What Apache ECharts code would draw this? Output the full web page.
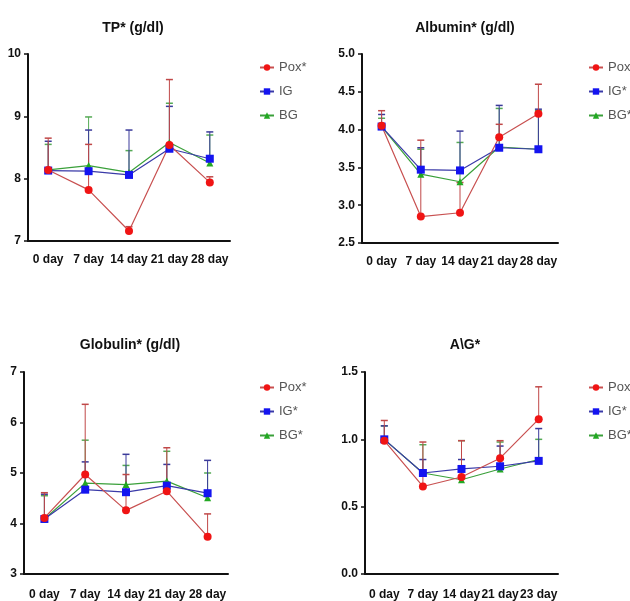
<!DOCTYPE html>
<html>
<head>
<meta charset="utf-8">
<script src="https://cdn.jsdelivr.net/npm/echarts@6/dist/echarts.min.js"></script>
<style>
html, body { margin: 0; padding: 0; background: #fff; }
#main { width: 630px; height: 601px; }
</style>
</head>
<body>
<div id="main"></div>
<script>
// categories
var days = ['0 day', '7 day', '14 day', '21 day', '28 day'];
var daysAG = ['0 day', '7 day', '14 day', '21 day', '23 day'];

// TP (g/dl): mean and top of error bar
var tpPox = [8.14, 7.82, 7.16, 8.54, 7.94];
var tpPoxTop = [8.65, 8.55, 7.23, 9.59, 8.03];
var tpIG = [8.13, 8.12, 8.06, 8.48, 8.32];
var tpIGTop = [8.60, 8.78, 8.78, 9.16, 8.75];
var tpBG = [8.14, 8.21, 8.10, 8.58, 8.25];
var tpBGTop = [8.55, 8.99, 8.45, 9.21, 8.70];

// Albumin (g/dl)
var albPox = [4.05, 2.85, 2.90, 3.90, 4.21];
var albPoxTop = [4.25, 3.86, 3.30, 4.07, 4.60];
var albIG = [4.04, 3.47, 3.46, 3.76, 3.74];
var albIGTop = [4.20, 3.76, 3.98, 4.32, 4.27];
var albBG = [4.04, 3.41, 3.31, 3.77, 3.74];
var albBGTop = [4.15, 3.74, 3.83, 4.28, 4.25];

// Globulin (g/dl)
var gloPox = [4.11, 4.97, 4.26, 4.64, 3.74];
var gloPoxTop = [4.61, 6.36, 4.97, 5.50, 4.19];
var gloIG = [4.09, 4.67, 4.62, 4.75, 4.60];
var gloIGTop = [4.58, 5.22, 5.37, 5.17, 5.25];
var gloBG = [4.09, 4.80, 4.77, 4.84, 4.51];
var gloBGTop = [4.55, 5.65, 5.15, 5.43, 5.00];

// A\G
var agPox = [0.99, 0.65, 0.72, 0.86, 1.15];
var agPoxTop = [1.14, 0.98, 0.99, 0.99, 1.39];
var agIG = [1.00, 0.75, 0.78, 0.80, 0.84];
var agIGTop = [1.10, 0.85, 0.85, 0.95, 1.08];
var agBG = [1.00, 0.75, 0.70, 0.78, 0.85];
var agBGTop = [1.10, 0.96, 0.99, 0.98, 1.00];

var titles = ['TP* (g/dl)', 'Albumin* (g/dl)', 'Globulin* (g/dl)', 'A\\G*'];
var legendNames = [
    ['Pox*', 'IG', 'BG'],
    ['Pox*', 'IG*', 'BG*'],
    ['Pox*', 'IG*', 'BG*'],
    ['Pox*', 'IG*', 'BG*']
];
var yMin = [7, 2.5, 3, 0];
var yMax = [10, 5, 7, 1.5];
var yStep = [1, 0.5, 1, 0.5];
var yDigits = [0, 1, 0, 1];

var FONT = '"Liberation Sans", Arial, sans-serif';

var panels = [
    { cats: days, pox: [tpPox, tpPoxTop], ig: [tpIG, tpIGTop], bg: [tpBG, tpBGTop] },
    { cats: days, pox: [albPox, albPoxTop], ig: [albIG, albIGTop], bg: [albBG, albBGTop] },
    { cats: days, pox: [gloPox, gloPoxTop], ig: [gloIG, gloIGTop], bg: [gloBG, gloBGTop] },
    { cats: daysAG, pox: [agPox, agPoxTop], ig: [agIG, agIGTop], bg: [agBG, agBGTop] }
];

// where each panel sits
var grids = [
    { left: 28, top: 54, width: 202, height: 187 },
    { left: 362, top: 54, width: 196, height: 189 },
    { left: 24, top: 372, width: 204, height: 202 },
    { left: 365, top: 372, width: 193, height: 203 }
];
var titlePos = [[128, 16], [460, 16], [125, 333], [460, 333]];
var legendPos = [[254, 56], [583, 56], [254, 376], [583, 376]];
var labelMargin = [13, 13, 15, 15];

var groups = [
    { key: 'bg', idx: 2, marker: '#22a822', line: '#3aa03a', err: '#55aa55', symbol: 'triangle', size: 7 },
    { key: 'ig', idx: 1, marker: '#1414f0', line: '#3a3aa8', err: '#3a3a9a', symbol: 'rect', size: 8 },
    { key: 'pox', idx: 0, marker: '#f01414', line: '#c85050', err: '#c04848', symbol: 'circle', size: 8 }
];

function errRender(color) {
    return function (params, api) {
        var mid = api.coord([api.value(0), api.value(1)]);
        var top = api.coord([api.value(0), api.value(2)]);
        return {
            type: 'group',
            children: [
                { type: 'line', shape: { x1: mid[0], y1: mid[1], x2: top[0], y2: top[1] }, style: { stroke: color, lineWidth: 1 } },
                { type: 'line', shape: { x1: top[0] - 3.5, y1: top[1], x2: top[0] + 3.5, y2: top[1] }, style: { stroke: color, lineWidth: 1.5 } }
            ]
        };
    };
}

var option = {
    animation: false,
    backgroundColor: '#fff',
    title: [], legend: [], grid: [], xAxis: [], yAxis: [], series: []
};

for (var p = 0; p < 4; p++) {
    option.title.push({
        text: titles[p], left: titlePos[p][0], top: titlePos[p][1], textAlign: 'center',
        textStyle: { fontFamily: FONT, fontSize: 14, fontWeight: 'bold', color: '#111' }
    });
    option.legend.push({
        data: legendNames[p], orient: 'vertical', left: legendPos[p][0], top: legendPos[p][1],
        itemWidth: 14, itemHeight: 8, itemGap: 11,
        textStyle: { fontFamily: FONT, fontSize: 13, color: '#555' }
    });
    option.grid.push(grids[p]);
    option.xAxis.push({
        type: 'category', gridIndex: p, data: panels[p].cats, boundaryGap: true,
        axisLine: { lineStyle: { color: '#111', width: 2 } },
        axisTick: { alignWithLabel: true, length: 5, lineStyle: { color: '#111', width: 1.5 } },
        axisLabel: { interval: 0, margin: labelMargin[p], color: '#111', fontFamily: FONT, fontSize: 12, fontWeight: 'bold' }
    });
    (function (d) {
        option.yAxis.push({
            type: 'value', gridIndex: p, min: yMin[p], max: yMax[p], interval: yStep[p],
            splitLine: { show: false },
            axisLine: { show: true, lineStyle: { color: '#111', width: 2 } },
            axisTick: { show: true, length: 4, lineStyle: { color: '#111', width: 1.5 } },
            axisLabel: {
                margin: 7, color: '#111', fontFamily: FONT, fontSize: 12, fontWeight: 'bold',
                formatter: function (v) { return v.toFixed(d); }
            }
        });
    })(yDigits[p]);

    // error bars first, under the lines
    groups.forEach(function (g) {
        var mean = panels[p][g.key][0], top = panels[p][g.key][1];
        option.series.push({
            type: 'custom', name: legendNames[p][g.idx] + ' err', xAxisIndex: p, yAxisIndex: p, z: 1,
            renderItem: errRender(g.err),
            data: mean.map(function (v, i) { return [i, v, top[i]]; })
        });
    });
    groups.forEach(function (g) {
        option.series.push({
            type: 'line', name: legendNames[p][g.idx], xAxisIndex: p, yAxisIndex: p, z: 3,
            data: panels[p][g.key][0],
            symbol: g.symbol, symbolSize: g.size,
            itemStyle: { color: g.marker },
            lineStyle: { color: g.line, width: 1.2 }
        });
    });
}

var myChart = echarts.init(document.getElementById('main'));
myChart.setOption(option);
</script>
</body>
</html>
